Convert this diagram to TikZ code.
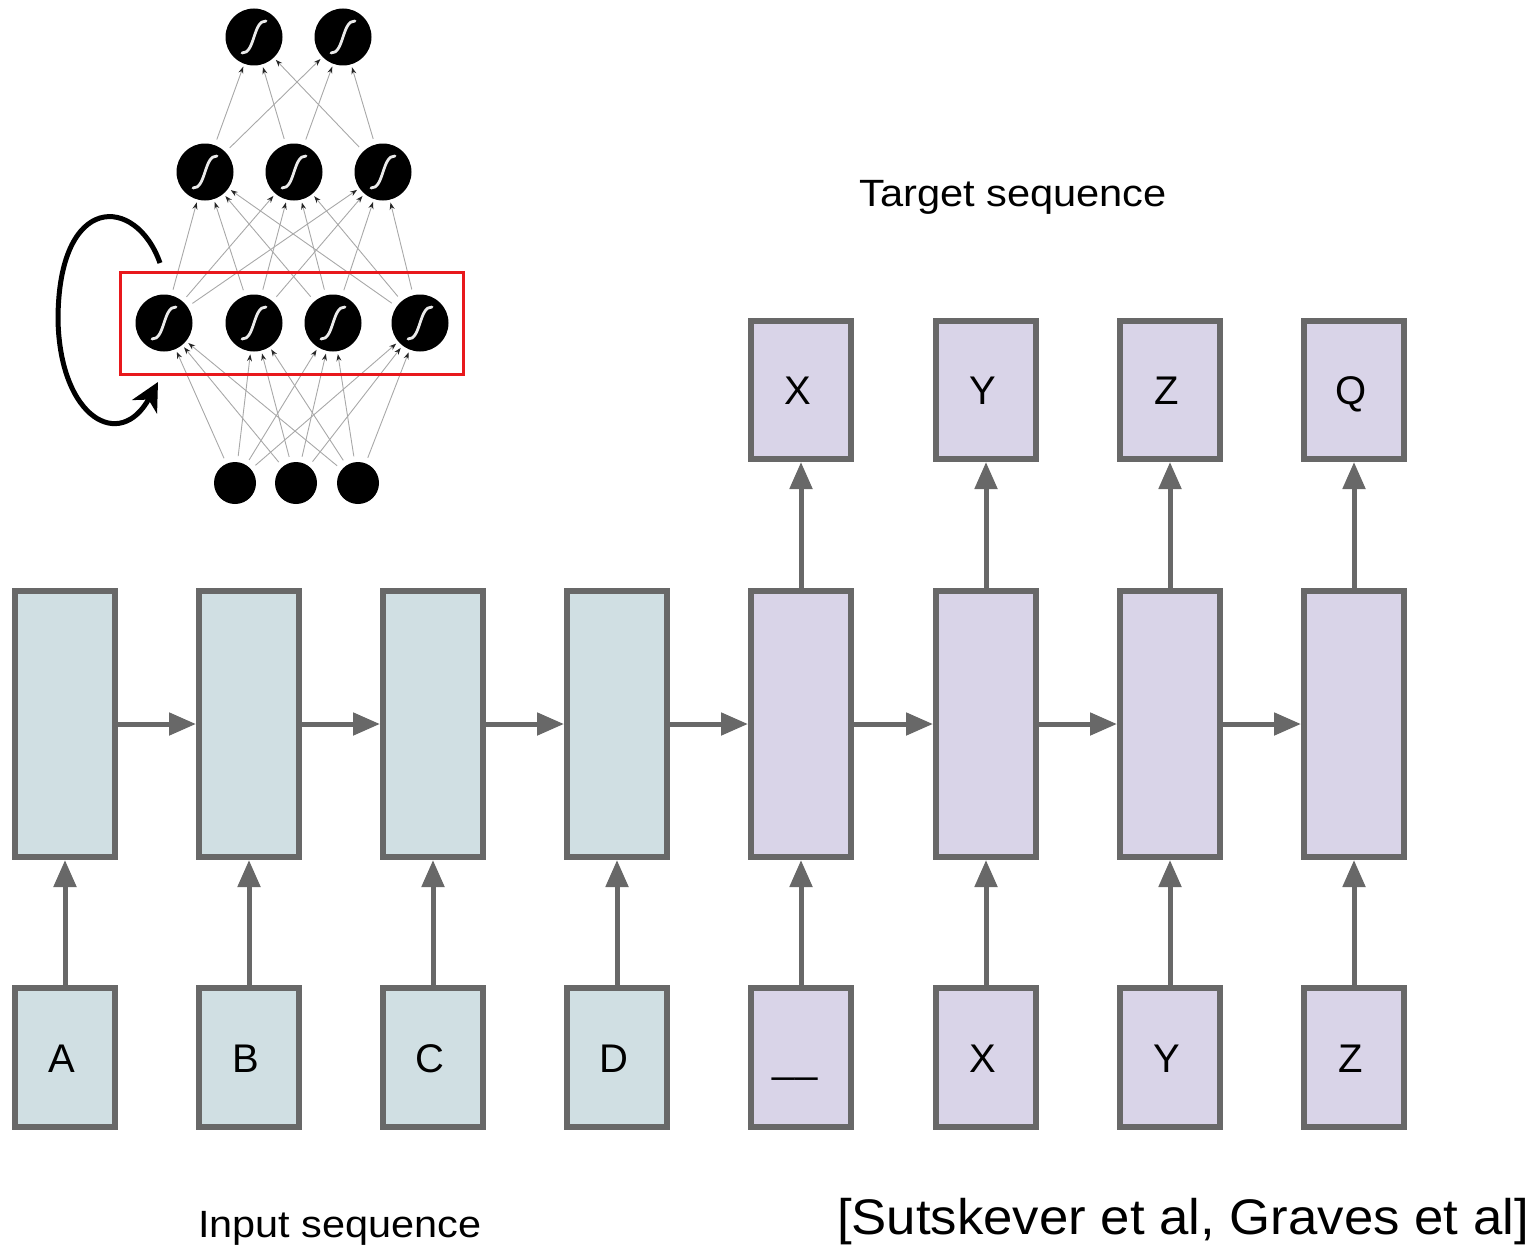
\documentclass[tikz,border=0pt]{standalone}
\usepackage{graphicx}
\usepackage{fontspec}
\setmainfont{Liberation Sans}
\usetikzlibrary{arrows.meta}
\definecolor{boxline}{HTML}{686868}
\definecolor{encfill}{HTML}{D0DFE3}
\definecolor{decfill}{HTML}{D9D4E8}
\definecolor{netedge}{HTML}{A8A8A8}
\definecolor{redbox}{HTML}{E8181C}
\begin{document}
\begin{tikzpicture}[x=1pt,y=-1pt,
  cell/.style={draw=boxline, line width=6pt, minimum width=100pt, minimum height=266pt, inner sep=0pt},
  tok/.style={draw=boxline, line width=6pt, minimum width=100pt, minimum height=139pt, inner sep=0pt},
  enc/.style={fill=encfill},
  dec/.style={fill=decfill},
  letter/.style={anchor=base, font=\fontsize{40}{48}\selectfont, inner sep=0pt},
  caption/.style={anchor=base, inner sep=0pt},
  flow/.style={draw=boxline, line width=5pt, -{Triangle[length=27pt,width=22pt]}},
  neuron/.style={circle, fill=black, minimum size=57pt, inner sep=0pt, outer sep=3pt,
    path picture={\draw[white!92!black, line width=2.8pt, line cap=round]
      ([shift={(-12,16)}]path picture bounding box.center) .. controls
      ([shift={(1,17)}]path picture bounding box.center) and
      ([shift={(-1,-17)}]path picture bounding box.center) ..
      ([shift={(12,-16)}]path picture bounding box.center);}},
  inneuron/.style={circle, fill=black, minimum size=42pt, inner sep=0pt, outer sep=3pt},
  net/.style={draw=netedge, line width=0.9pt, shorten <=3pt,
    -{Stealth[length=7pt,width=5pt,color=black!85]}},
  recur/.style={draw=black, line width=5pt, -{Stealth[length=28pt,width=28pt,inset=8pt]}}
]
\useasboundingbox (0,0) rectangle (1539,1247);

% ---------- neural network ----------
\node[neuron] (o1) at (254,37) {};
\node[neuron] (o2) at (343,37) {};
\node[neuron] (h1) at (205,172) {};
\node[neuron] (h2) at (294,172) {};
\node[neuron] (h3) at (383,172) {};
\node[neuron] (r1) at (164,323) {};
\node[neuron] (r2) at (254,323) {};
\node[neuron] (r3) at (333,323) {};
\node[neuron] (r4) at (420,323) {};
\node[inneuron] (i1) at (235,483) {};
\node[inneuron] (i2) at (296,483) {};
\node[inneuron] (i3) at (358,483) {};

\foreach \a in {i1,i2,i3}
  \foreach \b in {r1,r2,r3,r4}
    \draw[net] (\a) -- (\b);
\foreach \a in {r1,r2,r3,r4}
  \foreach \b in {h1,h2,h3}
    \draw[net] (\a) -- (\b);
\foreach \a in {h1,h2,h3}
  \foreach \b in {o1,o2}
    \draw[net] (\a) -- (\b);

\node[draw=redbox, line width=3pt, minimum width=343pt, minimum height=102pt, inner sep=0pt] (rbox) at (292,323.5) {};

\coordinate (rs) at (160,263);
\coordinate (re) at (158,382);
\draw[recur] (rs) .. controls (136,195) and (58,192) .. (58,320)
  .. controls (60,418) and (120,452) .. (re);

% ---------- sequence model ----------
\foreach \x/\n in {65/1,249/2,433/3,617/4} {
  \node[cell,enc] (m\n) at (\x,724) {};
  \node[tok,enc] (b\n) at (\x,1057.5) {};
}
\foreach \x/\n in {801/5,986/6,1170/7,1354/8} {
  \node[cell,dec] (m\n) at (\x,724) {};
  \node[tok,dec] (b\n) at (\x,1057.5) {};
  \node[tok,dec,minimum height=138pt] (t\n) at (\x,390) {};
}

\foreach \n in {1,...,8}
  \draw[flow] (b\n.north) -- (m\n.south);
\foreach \n in {5,...,8}
  \draw[flow] (m\n.north) -- (t\n.south);
\foreach \n/\m in {1/2,2/3,3/4,4/5,5/6,6/7,7/8}
  \draw[flow] (m\n.east) -- (m\m.west);

% letters
\node[letter] (lA) at (62,1072) {A};
\node[letter] (lB) at (246,1072) {B};
\node[letter] (lC) at (430,1072) {C};
\node[letter] (lD) at (614,1072) {D};
\node[letter] (lU) at (795,1072) {\_\_};
\node[letter] (lX) at (983,1072) {X};
\node[letter] (lY) at (1167,1072) {Y};
\node[letter] (lZ) at (1351,1072) {Z};
\node[letter] (oX) at (798,404) {X};
\node[letter] (oY) at (983,404) {Y};
\node[letter] (oZ) at (1167,404) {Z};
\node[letter] (oQ) at (1351,404) {Q};

% captions
\node[caption, font=\fontsize{38}{46}\selectfont] (tgt) at (1013,206)
  {\scalebox{1.095}[1]{Target sequence}};
\node[caption, font=\fontsize{38}{46}\selectfont] (inp) at (340,1237)
  {\scalebox{1.09}[1]{Input sequence}};
\node[caption, font=\fontsize{50}{60}\selectfont] (cite) at (1183,1234)
  {\scalebox{1.055}[1]{[Sutskever et al, Graves et al]}};
\end{tikzpicture}
\end{document}
